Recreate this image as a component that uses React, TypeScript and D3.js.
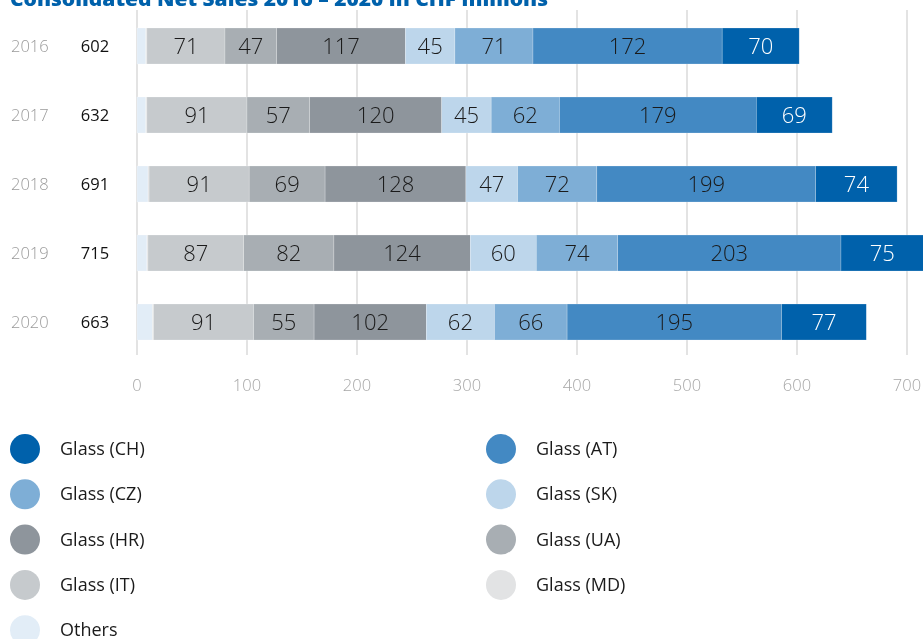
import React from 'react';
import * as d3 from 'd3';

const years = ['2016', '2017', '2018', '2019', '2020'];
const totals = [602, 632, 691, 715, 663];

// stacking order left to right
const seriesNames = ['Others', 'Glass (MD)', 'Glass (IT)', 'Glass (UA)', 'Glass (HR)', 'Glass (SK)', 'Glass (CZ)', 'Glass (AT)', 'Glass (CH)'];
const others = [8, 8, 10, 9, 14];
const glassMD = [1, 1, 1, 1, 1];
const glassIT = [71, 91, 91, 87, 91];
const glassUA = [47, 57, 69, 82, 55];
const glassHR = [117, 120, 128, 124, 102];
const glassSK = [45, 45, 47, 60, 62];
const glassCZ = [71, 62, 72, 74, 66];
const glassAT = [172, 179, 199, 203, 195];
const glassCH = [70, 69, 74, 75, 77];
const seriesValues = [others, glassMD, glassIT, glassUA, glassHR, glassSK, glassCZ, glassAT, glassCH];
const seriesColors = ['#e2edf7', '#e2e3e4', '#c6cacd', '#a8aeb3', '#8e959c', '#bdd6eb', '#7eaed6', '#4389c3', '#0061ab'];
const labelled = [false, false, true, true, true, true, true, true, true];

// legend order, two columns
const legendItems = ['Glass (CH)', 'Glass (AT)', 'Glass (CZ)', 'Glass (SK)', 'Glass (HR)', 'Glass (UA)', 'Glass (IT)', 'Glass (MD)', 'Others'];
const xTicks = [0, 100, 200, 300, 400, 500, 600, 700];

const FONT = '"Open Sans", "Noto Sans", sans-serif';

export default function App() {
  const width = 923;
  const height = 639;

  const x = d3.scaleLinear().domain([0, 700]).range([137, 907]);
  const y = d3.scaleBand<string>().domain(years).range([11.5, 356.5]).paddingInner(0.478).paddingOuter(0.239);

  const rows = years.map((yr, i) => {
    const r: any = { year: yr };
    seriesNames.forEach((n, s) => (r[n] = seriesValues[s][i]));
    return r;
  });
  const stacked = d3.stack<any>().keys(seriesNames)(rows);

  return (
    <div style={{ position: 'fixed', left: 0, top: 0 }}>
      <svg width={width} height={height} style={{ display: 'block', fontFamily: FONT }}>
        <text x={10} y={6} fill="#0061ab" fontSize={20} fontWeight={800} textLength={538} lengthAdjust="spacingAndGlyphs">
          Consolidated Net Sales 2016 – 2020 in CHF millions
        </text>

        {xTicks.map((t) => (
          <g key={t}>
            <line x1={x(t)} x2={x(t)} y1={10} y2={355} stroke="#e3e3e3" strokeWidth={2} />
            <text x={x(t)} y={391} textAnchor="middle" fill="#a6a6a6" fontSize={16.5} fontWeight={300}>
              {t}
            </text>
          </g>
        ))}

        {stacked.map((layer, s) => (
          <g key={layer.key}>
            {layer.map((d, i) => {
              const x0 = x(d[0]);
              const x1 = x(d[1]);
              const yy = y(years[i])!;
              return (
                <g key={i}>
                  <rect x={x0} y={yy} width={x1 - x0} height={y.bandwidth()} fill={seriesColors[s]} stroke="rgba(255,255,255,0.35)" strokeWidth={0.6} />
                  {labelled[s] && (
                    <text
                      x={(x0 + x1) / 2}
                      y={yy + y.bandwidth() / 2 + 8}
                      textAnchor="middle"
                      fontSize={22}
                      fontWeight={300}
                      fill={s === seriesNames.length - 1 ? '#ffffff' : '#1a1a1a'}
                    >
                      {d[1] - d[0]}
                    </text>
                  )}
                </g>
              );
            })}
          </g>
        ))}

        {years.map((yr, i) => (
          <g key={yr}>
            <text x={11} y={y(yr)! + y.bandwidth() / 2 + 6} fill="#9a9a9a" fontSize={16.5} fontWeight={300}>
              {yr}
            </text>
            <text x={95} y={y(yr)! + y.bandwidth() / 2 + 6} textAnchor="middle" fill="#111" fontSize={16.5}>
              {totals[i]}
            </text>
          </g>
        ))}

        {legendItems.map((name, k) => {
          const col = k % 2;
          const row = Math.floor(k / 2);
          const cx = col === 0 ? 25 : 501;
          const cy = 449 + row * 45.3;
          const s = seriesNames.indexOf(name);
          return (
            <g key={name}>
              <circle cx={cx} cy={cy} r={15} fill={seriesColors[s]} />
              <text x={cx + 35} y={cy + 6} fontSize={18} fill="#1a1a1a">
                {name}
              </text>
            </g>
          );
        })}
      </svg>
    </div>
  );
}
